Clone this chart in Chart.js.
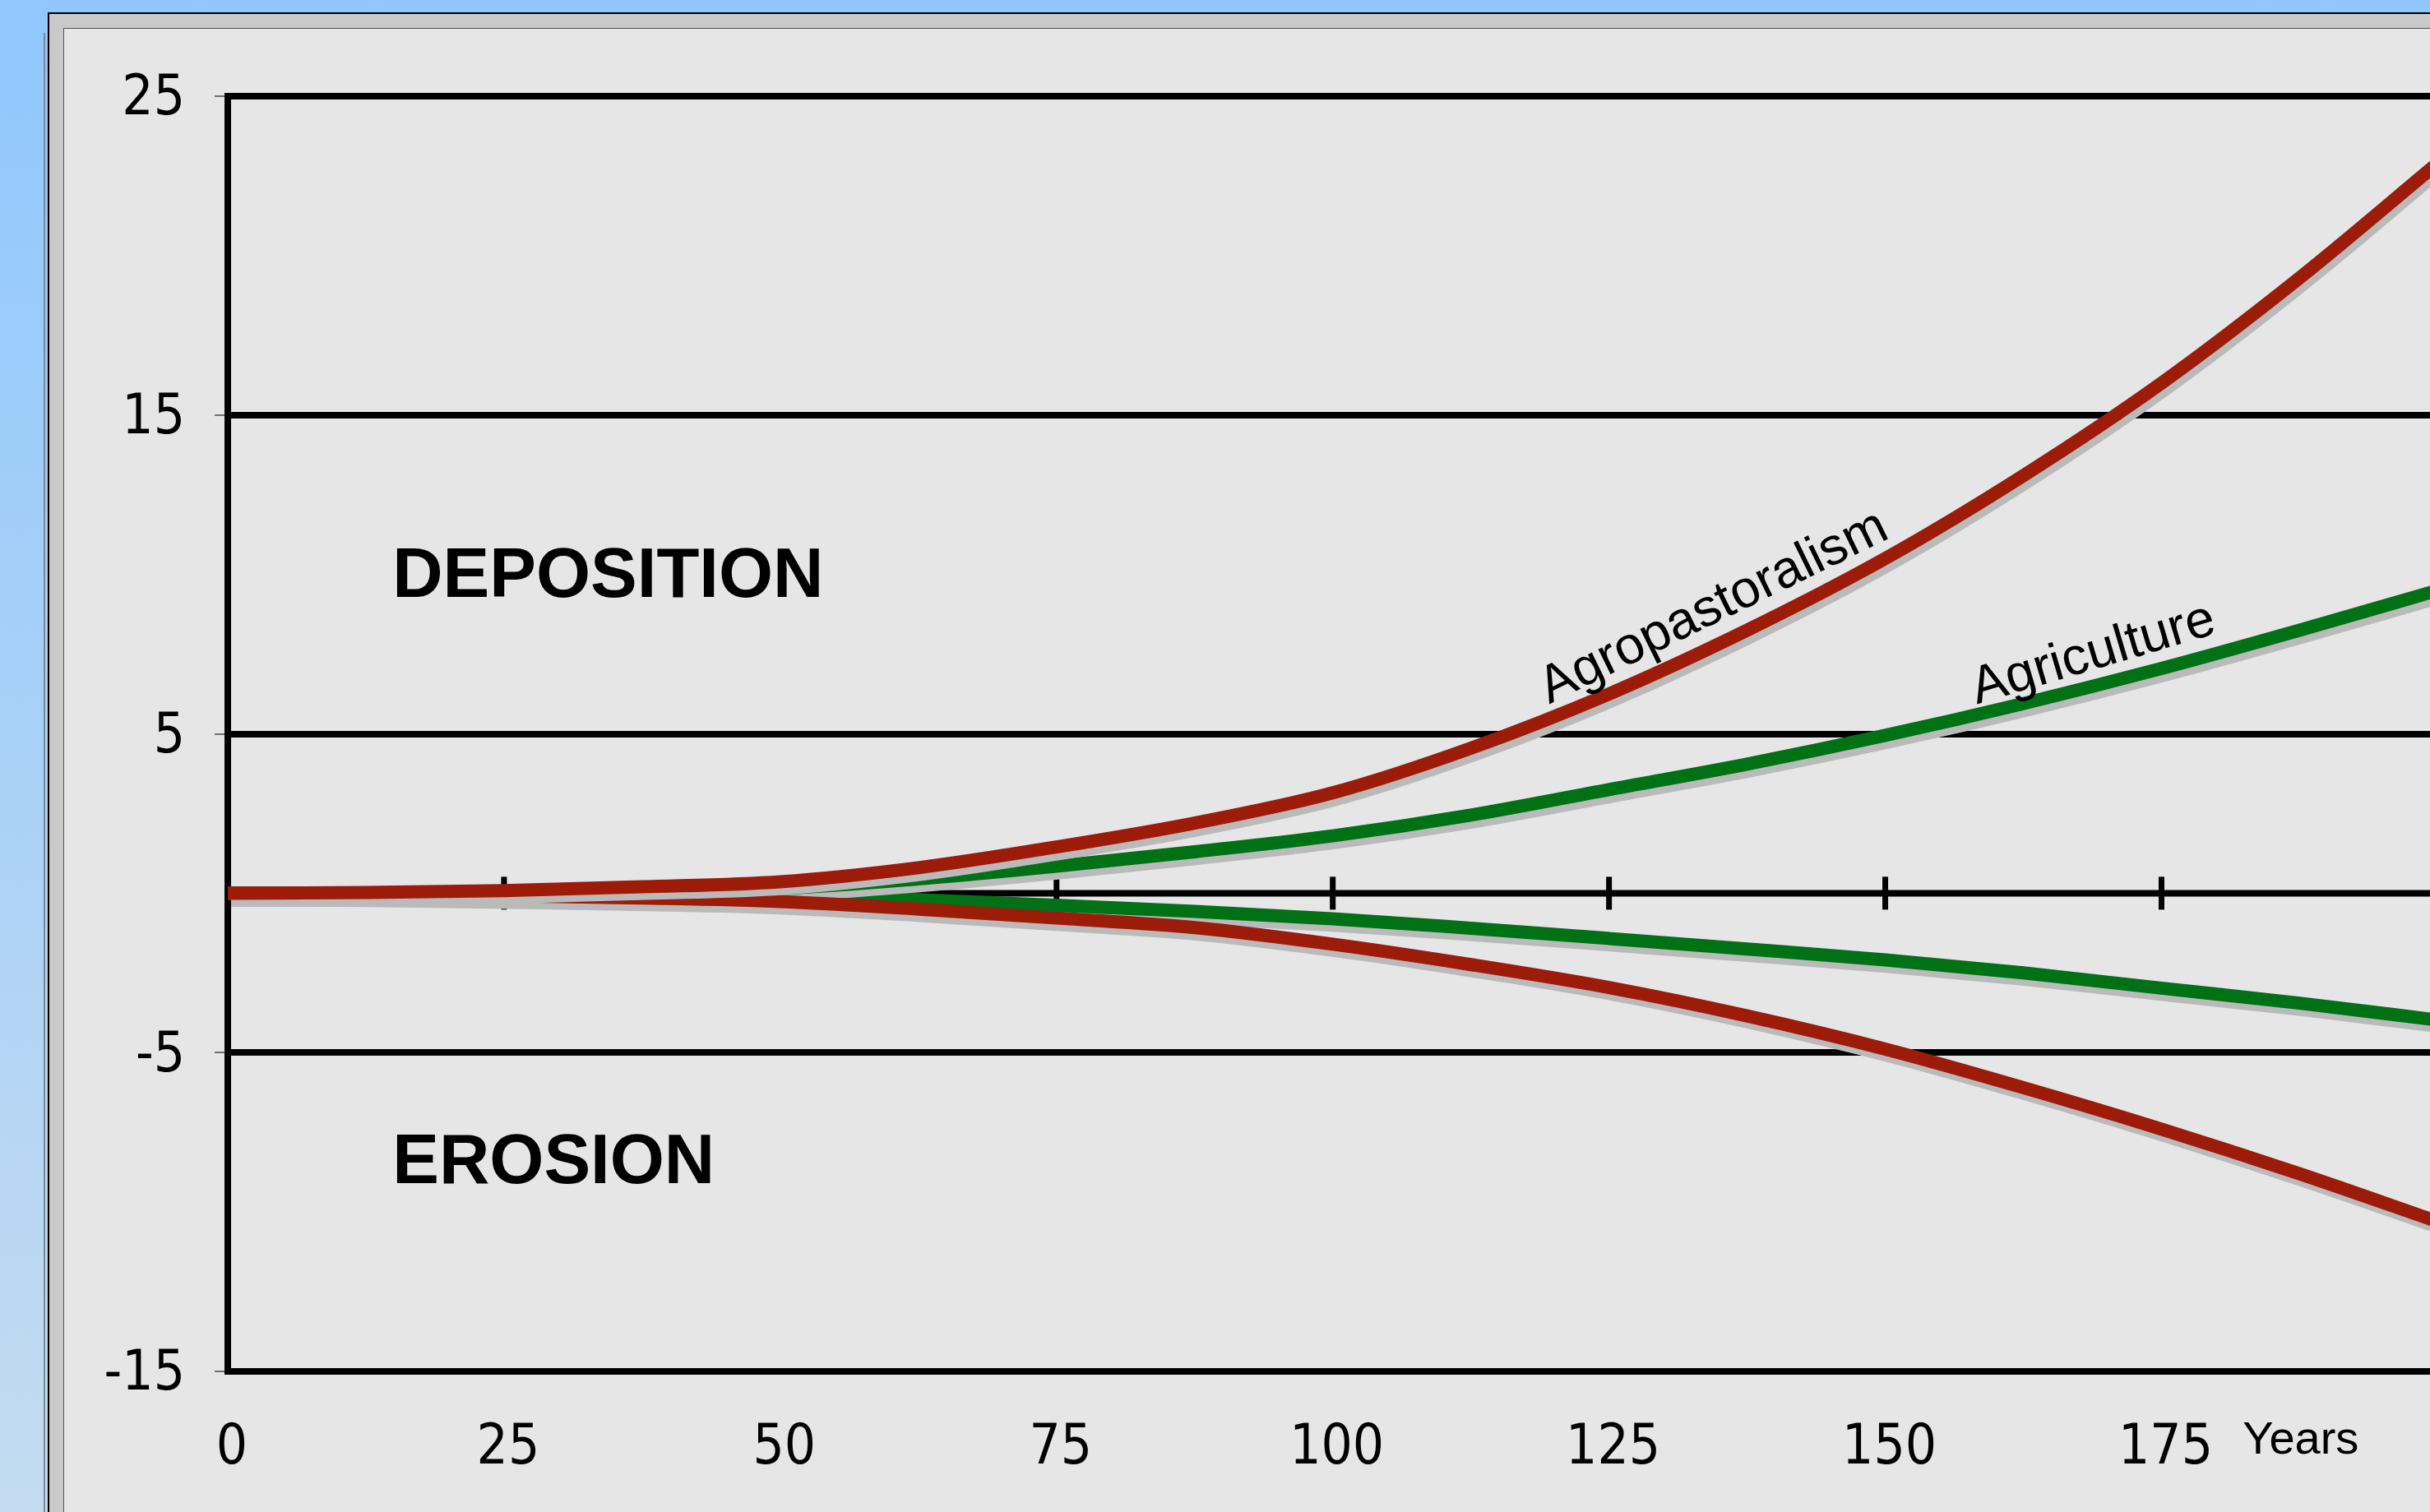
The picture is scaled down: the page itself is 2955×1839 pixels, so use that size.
<!DOCTYPE html>
<html>
<head>
<meta charset="utf-8">
<title>Deposition / Erosion</title>
<script src="https://cdn.jsdelivr.net/npm/chart.js@4.4.0/dist/chart.umd.min.js"></script>
<style>
  html, body { margin: 0; padding: 0; overflow: hidden; }
  body {
    width: 2955px; height: 1839px; position: relative;
    background: linear-gradient(to bottom, #90c7fd 0%, #a9d1f7 50%, #c4dbf0 100%);
  }
  #shade { position: absolute; left: 53px; top: 40px; width: 2px; bottom: 0; background: #7d8996; }
  #frame {
    position: absolute; left: 58px; top: 15px; right: 0; bottom: 0;
    background: #c9c9c9; border-left: 2px solid #000; border-top: 2px solid #000;
  }
  #panel {
    position: absolute; left: 17px; top: 17px; right: 0; bottom: 0;
    background: #e6e6e6; border-left: 1px solid #555; border-top: 1px solid #555;
  }
  #chart { position: absolute; left: 0; top: 0; }
</style>
</head>
<body>
<div id="shade"></div>
<div id="frame"><div id="panel"></div></div>
<canvas id="chart" width="2955" height="1839"></canvas>
<script>
// values
const years      = [0, 12.5, 25, 37.5, 50, 62.5, 75, 87.5, 100, 112.5, 125, 137.5, 150, 162.5, 175, 187.5, 200]
const agroUp     = [0, 0.02, 0.08, 0.2, 0.36, 0.8, 1.45, 2.2, 3.15, 4.55, 6.25, 8.25, 10.5, 13.1, 16.0, 19.3, 22.9]
const agriUp     = [0, 0.0, 0.03, 0.08, 0.15, 0.45, 0.85, 1.3, 1.8, 2.45, 3.25, 4.05, 4.95, 5.95, 7.05, 8.25, 9.5]
const agriDown   = [0, 0.0, -0.02, -0.03, -0.05, -0.2, -0.38, -0.57, -0.8, -1.1, -1.42, -1.75, -2.09, -2.5, -2.98, -3.45, -3.98]
const agroDown   = [0, -0.02, -0.08, -0.15, -0.26, -0.5, -0.78, -1.08, -1.6, -2.24, -2.96, -3.85, -4.89, -6.1, -7.4, -8.8, -10.3]
const yTicks     = [-15, -5, 5, 15, 25]
const xTicks     = [0, 25, 50, 75, 100, 125, 150, 175]

const RED = "#9d1b09"
const GREEN = "#007114"
const tickFont = '"DejaVu Sans Condensed", "DejaVu Sans", sans-serif'
const textFont = '"Liberation Sans", Arial, Helvetica, sans-serif'

const pts = (ys) => years.map((x, i) => ({x: x, y: ys[i]}))

const line = (data, color) => ({
  data: pts(data),
  borderColor: color,
  backgroundColor: color,
  borderWidth: 16,
  pointRadius: 0,
  cubicInterpolationMode: "monotone",
  fill: false,
})

// grey drop shadow under each curve
const shadowPlugin = {
  id: "shadow",
  beforeDatasetDraw(chart) {
    const ctx = chart.ctx
    ctx.save()
    ctx.shadowColor = "#bababa"
    ctx.shadowOffsetX = 4
    ctx.shadowOffsetY = 8
    ctx.shadowBlur = 0
  },
  afterDatasetDraw(chart) {
    chart.ctx.restore()
  },
}

// zero line with tick marks crossing it
const zeroAxis = {
  id: "zeroAxis",
  beforeDatasetsDraw(chart) {
    const {ctx, chartArea, scales} = chart
    const y0 = scales.y.getPixelForValue(0)
    ctx.save()
    ctx.strokeStyle = "#000"
    ctx.lineWidth = 8
    ctx.beginPath()
    ctx.moveTo(chartArea.left, y0)
    ctx.lineTo(chartArea.right, y0)
    ctx.stroke()
    ctx.lineWidth = 7
    xTicks.slice(1).forEach(v => {
      const px = scales.x.getPixelForValue(v)
      ctx.beginPath()
      ctx.moveTo(px, y0 - 20)
      ctx.lineTo(px, y0 + 20)
      ctx.stroke()
    })
    ctx.restore()
  },
}

// text written on the chart
const notes = {
  id: "notes",
  afterDatasetsDraw(chart) {
    const {ctx, chartArea, scales} = chart
    const put = (txt, xv, yv, deg, font) => {
      ctx.save()
      ctx.translate(scales.x.getPixelForValue(xv), scales.y.getPixelForValue(yv))
      ctx.rotate(deg * Math.PI / 180)
      ctx.font = font
      ctx.fillStyle = "#000"
      ctx.textAlign = "left"
      ctx.textBaseline = "alphabetic"
      ctx.fillText(txt, 0, 0)
      ctx.restore()
    }
    put("DEPOSITION", 14.9, 9.3, 0, "bold 85px " + textFont)
    put("EROSION", 14.9, -9.1, 0, "bold 85px " + textFont)
    put("Agropastoralism", 119.6, 5.93, -26, "64px " + textFont)
    put("Agriculture", 158.3, 5.93, -16.5, "64px " + textFont)

    ctx.save()
    ctx.font = "56px " + textFont
    ctx.fillStyle = "#000"
    ctx.textAlign = "center"
    ctx.textBaseline = "alphabetic"
    ctx.fillText("Years", scales.x.getPixelForValue(187.6), chartArea.bottom + 100)
    ctx.restore()
  },
}

let chartEle = document.getElementById("chart").getContext("2d")
let chart = new Chart(chartEle, {
  type: "line",
  data: {
    datasets: [
      line(agroUp, RED),
      line(agroDown, RED),
      line(agriUp, GREEN),
      line(agriDown, GREEN),
    ],
  },
  options: {
    responsive: false,
    animation: false,
    layout: { padding: { top: 117, left: 0, right: 0, bottom: 0 } },
    plugins: {
      legend: { display: false },
      tooltip: { enabled: false },
    },
    scales: {
      x: {
        type: "linear",
        min: 0,
        max: 199.3,
        afterBuildTicks: s => { s.ticks = xTicks.map(v => ({value: v})) },
        afterFit: s => { s.height = 171 },
        grid: { display: false, drawTicks: false },
        border: { display: false },
        ticks: {
          color: "#000",
          font: { family: tickFont, size: 67 },
          padding: 54,
          labelOffset: 5,
          maxRotation: 0,
          autoSkip: false,
        },
      },
      y: {
        type: "linear",
        min: -15,
        max: 25,
        afterBuildTicks: s => { s.ticks = yTicks.map(v => ({value: v})) },
        afterFit: s => { s.width = 277 },
        grid: { color: "#000", lineWidth: 8, tickColor: "#707070", tickWidth: 2, tickLength: 16 },
        border: { display: true, color: "#000", width: 8 },
        ticks: {
          color: "#000",
          font: { family: tickFont, size: 67 },
          padding: 36,
          labelOffset: 5,
        },
      },
    },
  },
  plugins: [shadowPlugin, zeroAxis, notes],
})
</script>
</body>
</html>
